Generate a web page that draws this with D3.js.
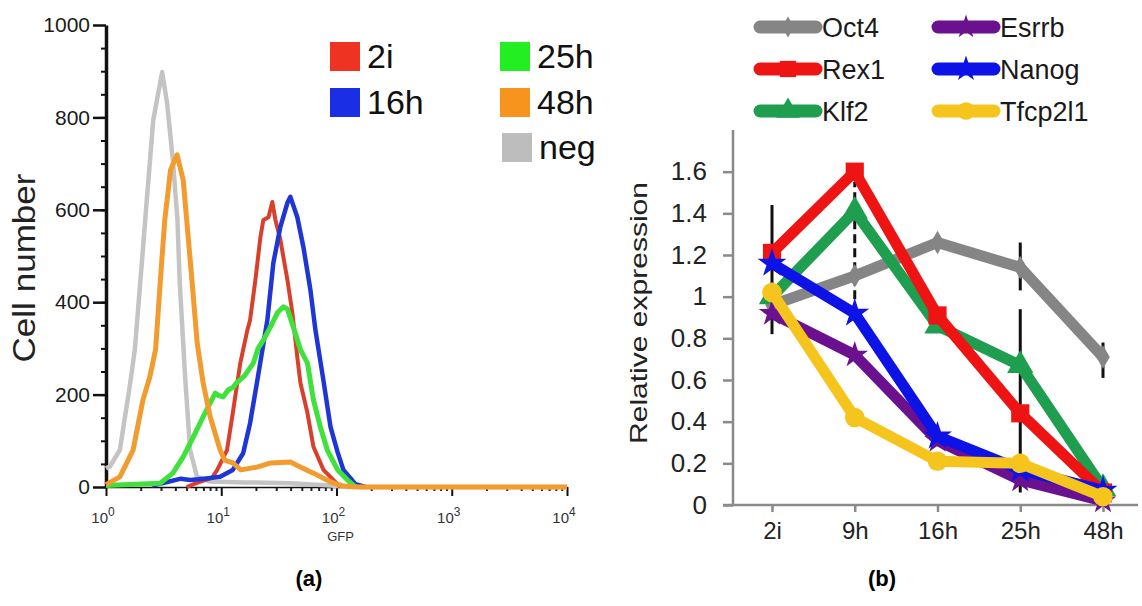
<!DOCTYPE html>
<html>
<head>
<meta charset="utf-8">
<script src="https://cdn.jsdelivr.net/npm/d3@7"></script>
<style>
  body { margin: 0; background: #fff; }
  text { font-family: "Liberation Sans", Arial, sans-serif; }
</style>
</head>
<body>
<svg id="chart" width="1142" height="606"></svg>
<script>
// ---- panel (a): GFP histograms, [log10(GFP), cell count]
const histNeg = [[0, 40], [0.035, 45], [0.12, 80], [0.21, 225], [0.25, 297], [0.32, 513], [0.34, 578],
  [0.41, 794], [0.487, 898], [0.53, 831], [0.58, 708], [0.62, 578], [0.64, 441], [0.69, 225],
  [0.73, 80], [0.79, 22], [0.9, 12], [1.2, 10], [1.6, 8], [1.95, 3], [2.1, 0], [4, 0]];
const hist48h = [[0, 5], [0.12, 22], [0.235, 80], [0.32, 188], [0.38, 238], [0.43, 297], [0.47, 441],
  [0.51, 578], [0.56, 686], [0.617, 719], [0.67, 664], [0.713, 541], [0.748, 441], [0.791, 312],
  [0.843, 225], [0.904, 152], [0.99, 80], [1.03, 58], [1.1, 52], [1.17, 37], [1.31, 43],
  [1.43, 52], [1.6, 54], [1.69, 43], [1.8, 30], [1.95, 11], [2.06, 2], [2.2, 0], [4, 0]];
const hist2i = [[0.7, 0], [0.8, 10], [0.92, 20], [0.965, 37], [1.05, 80], [1.1, 160], [1.165, 268],
  [1.226, 339], [1.25, 361], [1.296, 448], [1.34, 541], [1.365, 578], [1.41, 584], [1.443, 617],
  [1.47, 578], [1.513, 535], [1.574, 448], [1.617, 377], [1.66, 281], [1.687, 225], [1.748, 160],
  [1.8, 87], [1.887, 37], [1.974, 15], [2.035, 0]];
const hist16h = [[0.4, 3], [0.55, 12], [0.65, 18], [0.73, 15], [0.85, 18], [0.99, 22], [1.1, 37],
  [1.19, 73], [1.25, 138], [1.313, 231], [1.4, 361], [1.452, 485], [1.513, 563], [1.574, 615],
  [1.6, 628], [1.66, 584], [1.713, 519], [1.774, 426], [1.817, 340], [1.887, 230], [1.948, 130],
  [2.01, 75], [2.06, 37], [2.165, 6], [2.25, 0]];
const hist25h = [[0, 3], [0.47, 8], [0.58, 30], [0.67, 65], [0.757, 108], [0.843, 152], [0.904, 182],
  [0.948, 203], [0.98, 198], [1.017, 195], [1.06, 210], [1.104, 216], [1.13, 225], [1.2, 240],
  [1.278, 268], [1.32, 300], [1.365, 318], [1.426, 346], [1.487, 377], [1.54, 390], [1.574, 385],
  [1.626, 346], [1.687, 297], [1.748, 268], [1.8, 188], [1.86, 130], [1.92, 80], [2.01, 37],
  [2.096, 15], [2.165, 0]];

const histNames = ['2i', '16h', '25h', '48h', 'neg'];
const countTicks = [0, 200, 400, 600, 800, 1000];
const gfpTicks = [1, 10, 100, 1000, 10000];

// ---- panel (b): relative expression
const timepoints = ['2i', '9h', '16h', '25h', '48h'];
const genes = ['Oct4', 'Rex1', 'Klf2', 'Esrrb', 'Nanog', 'Tfcp2l1'];
const oct4 = [0.96, 1.10, 1.26, 1.14, 0.71];
const rex1 = [1.21, 1.60, 0.91, 0.44, 0.06];
const klf2 = [1.00, 1.41, 0.86, 0.67, 0.08];
const esrrb = [0.92, 0.72, 0.31, 0.12, 0.02];
const nanog = [1.16, 0.92, 0.33, 0.17, 0.07];
const tfcp2l1 = [1.02, 0.42, 0.21, 0.20, 0.04];
const errorBars = [['2i', 0.82, 1.44], ['9h', 0.92, 1.55], ['25h', 1.03, 1.26], ['25h', 0.06, 0.94], ['48h', 0.61, 0.78]];
const exprTicks = [0, 0.2, 0.4, 0.6, 0.8, 1, 1.2, 1.4, 1.6];

const svg = d3.select('#chart');

// ================= panel (a) =================
const xGfp = d3.scaleLog().domain([1, 10000]).range([106, 567]);
const yCount = d3.scaleLinear().domain([0, 1000]).range([487, 25]);

const gA = svg.append('g');

gA.append('g')
  .attr('transform', 'translate(106,0)')
  .call(d3.axisLeft(yCount).tickValues(d3.range(50, 1000, 50)).tickSize(5).tickFormat(''))
  .call((g) => g.select('.domain').remove())
  .selectAll('line').attr('stroke', '#111').attr('stroke-width', 2);

const yAxisA = gA.append('g')
  .attr('transform', 'translate(106,0)')
  .call(d3.axisLeft(yCount).tickValues(countTicks).tickSize(13).tickPadding(3).tickSizeOuter(0).tickFormat(d3.format('d')));
yAxisA.select('.domain').attr('stroke', '#111').attr('stroke-width', 3.5);
yAxisA.selectAll('.tick line').attr('stroke', '#111').attr('stroke-width', 2.5);
yAxisA.selectAll('text').attr('font-size', 21).attr('fill', '#1a1a1a')
  .attr('font-family', '"Liberation Sans", Arial, sans-serif');

const minorGfp = [];
gfpTicks.slice(0, -1).forEach((d) => { for (let k = 2; k < 10; k++) minorGfp.push(d * k); });

gA.append('g')
  .attr('transform', 'translate(0,487)')
  .call(d3.axisBottom(xGfp).tickValues(minorGfp).tickSize(4).tickFormat(''))
  .call((g) => g.select('.domain').remove())
  .selectAll('line').attr('stroke', '#222').attr('stroke-width', 2);

const xAxisA = gA.append('g')
  .attr('transform', 'translate(0,487)')
  .call(d3.axisBottom(xGfp).tickValues(gfpTicks).tickSize(9).tickFormat('').tickSizeOuter(0));
xAxisA.select('.domain').attr('stroke', '#111').attr('stroke-width', 1.5);
xAxisA.selectAll('.tick line').attr('stroke', '#111').attr('stroke-width', 2);

const expLabels = gA.selectAll('.explabel')
  .data(gfpTicks)
  .enter()
  .append('text')
  .attr('class', 'explabel')
  .attr('x', (d) => xGfp(d) - 3)
  .attr('y', 523)
  .attr('text-anchor', 'middle')
  .attr('font-size', 15)
  .attr('fill', '#333');
expLabels.append('tspan').text('10');
expLabels.append('tspan').attr('dy', -7).attr('font-size', 12).text((d) => Math.round(Math.log10(d)));

gA.append('text')
  .attr('x', xGfp(100) + 4)
  .attr('y', 541)
  .attr('text-anchor', 'middle')
  .attr('font-size', 13)
  .attr('fill', '#333')
  .text('GFP');

gA.append('text')
  .attr('transform', 'translate(35,268) rotate(-90)')
  .attr('text-anchor', 'middle')
  .attr('font-size', 31)
  .attr('textLength', 189)
  .attr('lengthAdjust', 'spacingAndGlyphs')
  .attr('fill', '#222')
  .text('Cell number');

const histLine = d3.line()
  .x((d) => xGfp(Math.pow(10, d[0])))
  .y((d) => yCount(d[1]));

const histSeries = [
  { data: histNeg, color: '#c4c4c4', width: 4.5 },
  { data: hist2i, color: '#d8402c', width: 4 },
  { data: hist16h, color: '#1f36d6', width: 4.5 },
  { data: hist25h, color: '#3ee23a', width: 5 },
  { data: hist48h, color: '#f29b2e', width: 5 }
];

gA.selectAll('.hist')
  .data(histSeries)
  .enter()
  .append('path')
  .attr('class', 'hist')
  .attr('d', (d) => histLine(d.data))
  .attr('fill', 'none')
  .attr('stroke', (d) => d.color)
  .attr('stroke-width', (d) => d.width)
  .attr('stroke-linejoin', 'round');

const histLegendColors = ['#ee3322', '#1a2ee6', '#22ee22', '#f7941d', '#bdbdbd'];
const histLegendPos = [[330, 56], [330, 102], [500, 56], [500, 102], [502, 147]];

const legA = gA.selectAll('.lega')
  .data(histNames)
  .enter()
  .append('g')
  .attr('class', 'lega')
  .attr('transform', (d, i) => `translate(${histLegendPos[i][0]},${histLegendPos[i][1]})`);
legA.append('rect')
  .attr('x', 0).attr('y', -14).attr('width', 30).attr('height', 29)
  .attr('fill', (d, i) => histLegendColors[i]);
legA.append('text')
  .attr('x', 37).attr('y', 12)
  .attr('font-size', 34)
  .attr('fill', '#111')
  .text((d) => d);

// ================= panel (b) =================
const xTime = d3.scalePoint().domain(timepoints).range([772, 1103]);
const yExpr = d3.scaleLinear().domain([0, 1.8]).range([505, 130]);

const gB = svg.append('g');

gB.append('line')
  .attr('x1', 733).attr('x2', 733).attr('y1', yExpr(0)).attr('y2', yExpr(1.8))
  .attr('stroke', '#8a8a8a').attr('stroke-width', 2.5);
gB.append('line')
  .attr('x1', 723).attr('x2', 1138).attr('y1', yExpr(0)).attr('y2', yExpr(0))
  .attr('stroke', '#8a8a8a').attr('stroke-width', 2.5);

const yAxisB = gB.append('g')
  .attr('transform', 'translate(733,0)')
  .call(d3.axisLeft(yExpr).tickValues(exprTicks).tickSize(10).tickPadding(16).tickFormat((d) => d3.format('')(+d.toFixed(1))));
yAxisB.select('.domain').remove();
yAxisB.selectAll('.tick line').attr('stroke', '#8a8a8a').attr('stroke-width', 2.5);
yAxisB.selectAll('text').attr('font-size', 26).attr('fill', '#222')
  .attr('font-family', '"Liberation Sans", Arial, sans-serif');

const xAxisB = gB.append('g')
  .attr('transform', `translate(0,${yExpr(0)})`)
  .call(d3.axisBottom(xTime).tickSize(7).tickPadding(10));
xAxisB.select('.domain').remove();
xAxisB.selectAll('.tick line').attr('stroke', '#8a8a8a').attr('stroke-width', 2.5);
xAxisB.selectAll('text').attr('font-size', 24).attr('fill', '#222')
  .attr('font-family', '"Liberation Sans", Arial, sans-serif');

gB.append('text')
  .attr('transform', 'translate(647,313) rotate(-90)')
  .attr('text-anchor', 'middle')
  .attr('font-size', 24)
  .attr('textLength', 262)
  .attr('lengthAdjust', 'spacingAndGlyphs')
  .attr('fill', '#222')
  .text('Relative expression');

// error bars behind the lines
gB.selectAll('.err')
  .data(errorBars)
  .enter()
  .append('line')
  .attr('class', 'err')
  .attr('x1', (d) => xTime(d[0]))
  .attr('x2', (d) => xTime(d[0]))
  .attr('y1', (d) => yExpr(d[1]))
  .attr('y2', (d) => yExpr(d[2]))
  .attr('stroke', '#111')
  .attr('stroke-width', 3)
  .attr('stroke-dasharray', (d) => (d[0] === '9h' ? '9 5' : null));

const geneSeries = [
  { name: 'Oct4', values: oct4, color: '#858585', symbol: d3.symbolDiamond, size: 160 },
  { name: 'Klf2', values: klf2, color: '#1e9e4e', symbol: d3.symbolTriangle, size: 300 },
  { name: 'Rex1', values: rex1, color: '#ee1414', symbol: d3.symbolSquare, size: 330 },
  { name: 'Esrrb', values: esrrb, color: '#6b1190', symbol: d3.symbolStar, size: 220 },
  { name: 'Nanog', values: nanog, color: '#0d12e6', symbol: d3.symbolStar, size: 260 },
  { name: 'Tfcp2l1', values: tfcp2l1, color: '#f6c51d', symbol: d3.symbolCircle, size: 300 }
];

const exprLine = d3.line()
  .x((d, i) => xTime(timepoints[i]))
  .y((d) => yExpr(d));

const seriesG = gB.selectAll('.gene')
  .data(geneSeries)
  .enter()
  .append('g')
  .attr('class', 'gene');
seriesG.append('path')
  .attr('d', (d) => exprLine(d.values))
  .attr('fill', 'none')
  .attr('stroke', (d) => d.color)
  .attr('stroke-width', 11)
  .attr('stroke-linejoin', 'round');
seriesG.selectAll('.mark')
  .data((d) => d.values.map((v, i) => ({ v, i, s: d })))
  .enter()
  .append('path')
  .attr('class', 'mark')
  .attr('transform', (d) => `translate(${xTime(timepoints[d.i])},${yExpr(d.v)})`)
  .attr('d', (d) => d3.symbol().type(d.s.symbol).size(d.s.size)())
  .attr('fill', (d) => d.s.color);

// legend (b), ordered as in the figure
const legendOrder = ['Oct4', 'Esrrb', 'Rex1', 'Nanog', 'Klf2', 'Tfcp2l1'];
const legB = gB.selectAll('.legb')
  .data(legendOrder.map((n) => geneSeries.find((s) => s.name === n)))
  .enter()
  .append('g')
  .attr('class', 'legb')
  .attr('transform', (d, i) => `translate(${i % 2 === 0 ? 755 : 933},${27 + Math.floor(i / 2) * 42})`);
legB.append('line')
  .attr('x1', 5).attr('x2', 61).attr('y1', 0).attr('y2', 0)
  .attr('stroke', (d) => d.color)
  .attr('stroke-width', 13)
  .attr('stroke-linecap', 'round');
legB.append('path')
  .attr('transform', 'translate(33,0)')
  .attr('d', (d) => d3.symbol().type(d.symbol).size(d.size * 0.8)())
  .attr('fill', (d) => d.color);
legB.append('text')
  .attr('x', 67).attr('y', 10)
  .attr('font-size', 27)
  .attr('fill', '#1a1a1a')
  .text((d) => d.name);

// panel captions
svg.selectAll('.caption')
  .data(['(a)', '(b)'])
  .enter()
  .append('text')
  .attr('class', 'caption')
  .attr('x', (d, i) => (i === 0 ? 309 : 882))
  .attr('y', 586)
  .attr('text-anchor', 'middle')
  .attr('font-family', '"Liberation Serif", "Times New Roman", serif')
  .attr('font-weight', 'bold')
  .attr('font-size', 22)
  .text((d) => d);
</script>
</body>
</html>
